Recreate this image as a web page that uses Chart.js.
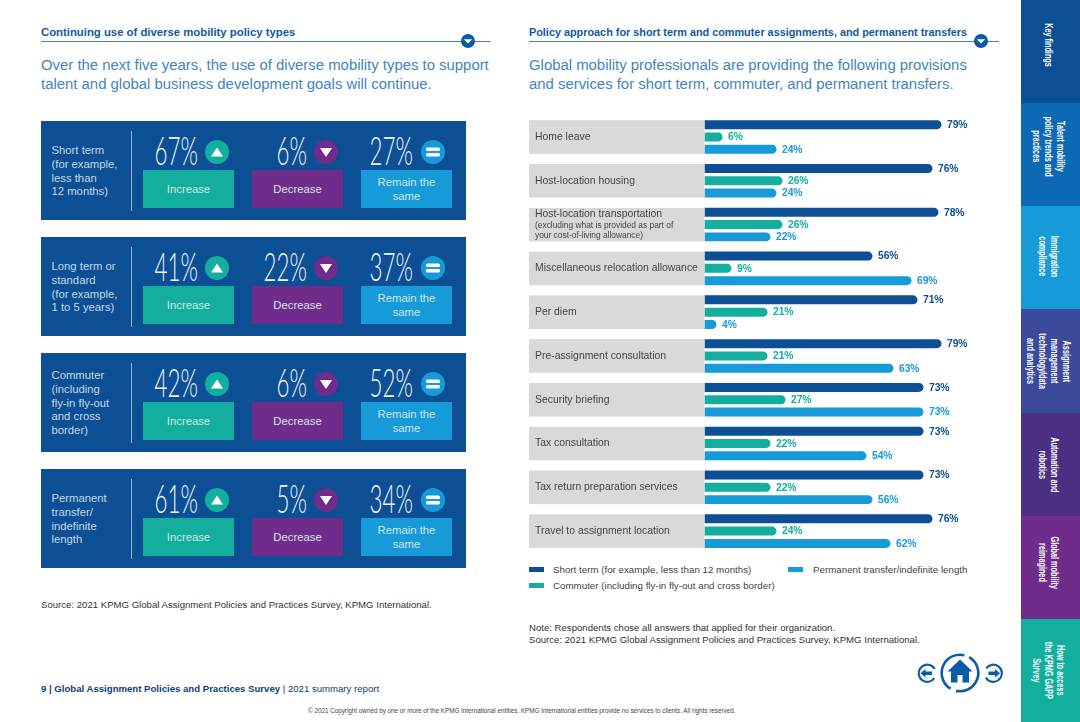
<!DOCTYPE html>
<html><head><meta charset="utf-8">
<script src="https://cdn.jsdelivr.net/npm/chart.js@4"></script>
<style>
html,body{margin:0;padding:0;background:#fff;width:1080px;height:722px;overflow:hidden;font-family:"Liberation Sans",sans-serif}
.a{position:absolute;white-space:nowrap}
.hd{font-weight:700;color:#0f5a9f}
.sub{font-size:14.9px;line-height:19px;color:#3f86bd}
.rule{height:1px;background:#3f86bd}
.panel{position:absolute;left:41px;width:425px;height:99px;background:#0c4f94}
.sep{position:absolute;left:90px;top:10px;width:1px;height:80px;background:#8fb2d2}
.pl{position:absolute;left:10.5px;color:#c5d8ea;font-size:11.3px;line-height:13.8px;white-space:pre}
.num{position:absolute;top:9px;color:#eef4f9;font-family:"Lato";font-weight:300;font-size:40px;line-height:40px;transform:scaleX(.56);transform-origin:100% 50%;text-align:right;width:120px;white-space:nowrap}
.btn{position:absolute;top:49px;width:91px;height:38px;display:flex;align-items:center;justify-content:center;text-align:center;color:#cfe6e8;font-size:11.3px;line-height:14px}
.dot{position:absolute;top:19px;width:24px;height:24px}
.side{position:absolute;left:1021px;width:59px;color:#fff;font-family:"Liberation Sans";font-weight:700;font-size:11px;line-height:12px;display:flex;align-items:center;justify-content:center;overflow:hidden}
.side div{writing-mode:vertical-rl;text-align:center;white-space:nowrap;transform:scaleY(.66);margin-right:3px}
.note{font-size:9.6px;line-height:11.5px;color:#333}
.leg{position:absolute;font-size:9.75px;line-height:12px;color:#444;white-space:nowrap}
.sw{position:absolute;width:15px;height:5px}
</style></head><body>

<div class="a hd" style="left:41px;top:25.5px;font-size:11.33px">Continuing use of diverse mobility policy types</div>
<div class="a rule" style="left:41px;top:40.5px;width:450px"></div>
<div class="a sub" style="left:41px;top:55.5px">Over the next five years, the use of diverse mobility types to support<br>talent and global business development goals will continue.</div>

<div class="a hd" style="left:529px;top:25.5px;font-size:10.85px">Policy approach for short term and commuter assignments, and permanent transfers</div>
<div class="a rule" style="left:529px;top:40.5px;width:470px"></div>
<div class="a sub" style="left:529px;top:55.5px">Global mobility professionals are providing the following provisions<br>and services for short term, commuter, and permanent transfers.</div>

<svg class="a" style="left:461px;top:34px" width="14" height="14"><circle cx="7" cy="7" r="7" fill="#0c5ba8"/><path d="M2.8 5.2h8.4L7 9.6z" fill="#fff"/></svg>
<svg class="a" style="left:974px;top:34px" width="14" height="14"><circle cx="7" cy="7" r="7" fill="#0c5ba8"/><path d="M2.8 5.2h8.4L7 9.6z" fill="#fff"/></svg>

<div id="panels"></div>

<div style="position:absolute;left:529px;top:105px;width:481px;height:455px"><canvas id="c"></canvas></div>
<div id="legend"></div>

<div class="a note" style="left:41px;top:598.5px">Source: 2021 KPMG Global Assignment Policies and Practices Survey, KPMG International.</div>
<div class="a note" style="left:529px;top:622px">Note: Respondents chose all answers that applied for their organization.<br>Source: 2021 KPMG Global Assignment Policies and Practices Survey, KPMG International.</div>
<div class="a" style="left:41px;top:683px;font-size:9.6px;color:#0b3f78"><b>9 | Global Assignment Policies and Practices Survey</b> | 2021 summary report</div>
<div class="a" style="left:308px;top:707px;font-size:6.3px;color:#444">© 2021 Copyright owned by one or more of the KPMG International entities. KPMG International entities provide no services to clients. All rights reserved.</div>

<svg class="a" style="left:915px;top:650px" width="90" height="46" viewBox="0 0 90 46">
 <g fill="none" stroke="#0c5ba8">
  <circle cx="12.3" cy="23.3" r="8.6" stroke-width="2.2" stroke-dasharray="44 10" transform="rotate(35 12.3 23.3)"/>
  <circle cx="78.3" cy="23.3" r="8.6" stroke-width="2.2" stroke-dasharray="44 10" transform="rotate(215 78.3 23.3)"/>
  <circle cx="45" cy="23" r="18.3" stroke-width="2.6" stroke-dasharray="51.5 6" transform="rotate(-60 45 23)"/>
 </g>
 <path d="M5.500 23.300l5-4.300v2.600h6.500v3.400h-6.500v2.600z" fill="#0c5ba8"/>
 <path d="M85 23.300l-5-4.300v2.600h-6.500v3.400h6.500v2.600z" fill="#0c5ba8"/>
 <path d="M45 9.500L32.500 21.500h3.500v11h6.500v-7.500h5v7.500H54v-11h3.500z" fill="#0c5ba8"/>
</svg>
<div id="side"></div>

<script>
const categories=["Home leave","Host-location housing","Host-location transportation","Miscellaneous relocation allowance","Per diem","Pre-assignment consultation","Security briefing","Tax consultation","Tax return preparation services","Travel to assignment location"];
const subLabel=["(excluding what is provided as part of","your cost-of-living allowance)"];
const shortTerm=[79,76,78,56,71,79,73,73,73,76];
const commuter=[6,26,26,9,21,21,27,22,22,24];
const permanent=[24,24,22,69,4,63,73,54,56,62];
const seriesNames=["Short term (for example, less than 12 months)","Commuter (including fly-in fly-out and cross border)","Permanent transfer/indefinite length"];
const seriesColors=["#0c4f94","#14ae9f","#179bd8"];

const policyTypes=["Short term\n(for example,\nless than\n12 months)","Long term or\nstandard\n(for example,\n1 to 5 years)","Commuter\n(including\nfly-in fly-out\nand cross\nborder)","Permanent\ntransfer/\nindefinite\nlength"];
const increaseShare=[67,41,42,61];
const decreaseShare=[6,22,6,5];
const sameShare=[27,37,52,34];

const sideLabels=["Key findings","Talent mobility<br>policy trends and<br>practices","Immigration<br>compliance","Assignment<br>management<br>technology/data<br>and analytics","Automation and<br>robotics","Global mobility<br>reimagined","How to access<br>the KPMG GAPP<br>Survey"];
const sideColors=["#0c4f94","#0e69b4","#179bd8","#3c4a9c","#4a2f83","#6f2c8a","#14ae9f"];
const sideShift=[-6,-8,-1,0,0,-5,0];

// left panels
const tops=[121,237,353,469];
const plTop=[23,23,16,23];
let h="";
policyTypes.forEach((t,i)=>{
 h+=`<div class="panel" style="top:${tops[i]}px"><div class="sep"></div><div class="pl" style="top:${plTop[i]}px">${t}</div>
 <div class="num" style="left:37px">${increaseShare[i]}%</div>
 <svg class="dot" style="left:164px" viewBox="0 0 24 24"><circle cx="12" cy="12" r="12" fill="#14ae9f"/><path d="M6 16.500h12L12 7.500z" fill="#fff"/></svg>
 <div class="btn" style="left:102px;background:#14ae9f">Increase</div>
 <div class="num" style="left:146px">${decreaseShare[i]}%</div>
 <svg class="dot" style="left:273px" viewBox="0 0 24 24"><circle cx="12" cy="12" r="12" fill="#6f2c8a"/><path d="M6 8h12l-6 9z" fill="#fff"/></svg>
 <div class="btn" style="left:211px;background:#6f2c8a">Decrease</div>
 <div class="num" style="left:252px">${sameShare[i]}%</div>
 <svg class="dot" style="left:380px" viewBox="0 0 24 24"><circle cx="12" cy="12" r="12" fill="#179bd8"/><rect x="5" y="7.500" width="14" height="3.500" rx="1.500" fill="#fff"/><rect x="5" y="13" width="14" height="3.500" rx="1.500" fill="#fff"/></svg>
 <div class="btn" style="left:320px;background:#179bd8">Remain the<br>same</div></div>`;
});
document.getElementById("panels").innerHTML=h;

// side tabs
document.getElementById("side").innerHTML=sideLabels.map((s,i)=>{
 const y=Math.round(i*103.15);const e=Math.round((i+1)*103.15);
 return `<div class="side" style="top:${y}px;height:${e-y}px;background:${sideColors[i]}"><div style="position:relative;top:${sideShift[i]}px">${s}</div></div>`}).join("");

// legend
const legPos=[[529,566.500,553,564],[529,582.500,553,580],[788,566.500,813,564]];
document.getElementById("legend").innerHTML=seriesNames.map((n,i)=>{
 const p=legPos[i];return `<div class="sw" style="left:${p[0]}px;top:${p[1]}px;background:${seriesColors[i]}"></div><div class="leg" style="left:${p[2]}px;top:${p[3]}px">${n}</div>`}).join("");

const bandsPlugin={id:"bands",
 beforeDraw(ch){
  const c=ch.ctx,y=ch.scales.y;c.save();c.fillStyle="#d9d9d9";
  categories.forEach((_,i)=>{const m=y.getPixelForValue(i);c.fillRect(0,m-16.800,ch.chartArea.left,33.600);});
  c.restore();
 }};
const afterPlugin={id:"after",
 afterDraw(ch){
  const c=ch.ctx,y=ch.scales.y;c.save();
  c.font="8.400px 'Liberation Sans'";c.fillStyle="#444";c.textBaseline="middle";c.textAlign="left";
  const m=y.getPixelForValue(2);
  c.fillText(subLabel[0],6,m+.7);c.fillText(subLabel[1],6,m+11.4);
  c.font="700 10.300px 'Liberation Sans'";
  ch.data.datasets.forEach((d,di)=>{
   c.fillStyle=seriesColors[di];
   ch.getDatasetMeta(di).data.forEach((b,i)=>c.fillText(d.data[i]+"%",b.x+5.400,b.y+.5));
  });
  c.restore();
 }};

new Chart(document.getElementById("c"),{
 type:"bar",
 data:{labels:categories,datasets:[shortTerm,commuter,permanent].map((v,i)=>({
   label:seriesNames[i],data:v,backgroundColor:seriesColors[i],
   categoryPercentage:.843,barPercentage:.73,
   borderRadius:{topRight:4.500,bottomRight:4.500,topLeft:0,bottomLeft:0},borderSkipped:false}))},
 options:{indexAxis:"y",responsive:true,maintainAspectRatio:false,animation:false,
  layout:{padding:{left:6,right:5.500,top:10.100,bottom:7}},
  plugins:{legend:{display:false},tooltip:{enabled:false}},
  scales:{
   x:{display:false,min:0,max:100},
   y:{grid:{display:false},border:{display:false},
    afterFit(s){s.width=169.500;},
    ticks:{autoSkip:false,crossAlign:"far",padding:0,color:"#444",
     font:(ctx)=>({family:"'Liberation Sans'",size:10.400,lineHeight:ctx.index===2?.96:1.2}),
     callback(v,i){return i===2?[categories[i],"",""]:categories[i];}}}
  }},
 plugins:[bandsPlugin,afterPlugin]
});
</script>
</body></html>
